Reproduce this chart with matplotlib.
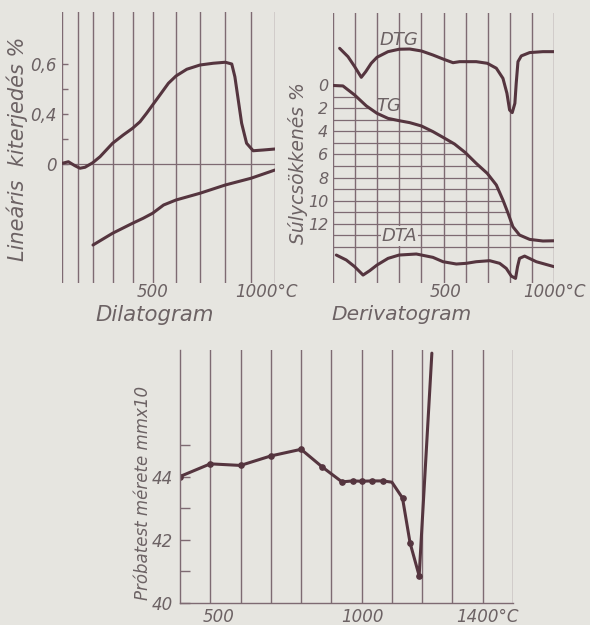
import numpy as np
import matplotlib
matplotlib.use("Agg")
import matplotlib.pyplot as plt

# ---------------------------------------------------------------------------
# Data
# ---------------------------------------------------------------------------

# Dilatogram: heating curve (°C, linear expansion %)
dil_heat_t = [0, 40, 81, 113, 147, 198, 235, 298, 351, 398, 435, 468, 498, 530,
              567, 600, 645, 700, 753, 801, 826, 838, 851, 864, 883, 909, 951, 1000]
dil_heat_v = [0.005, 0.018, -0.014, -0.034, -0.026, 0.01, 0.058, 0.166, 0.232,
              0.286, 0.338, 0.403, 0.436, 0.476, 0.523, 0.552, 0.579, 0.596,
              0.603, 0.607, 0.6, 0.549, 0.456, 0.326, 0.166, 0.106, 0.112, 0.12]
# Dilatogram: cooling curve
dil_cool_t = [200, 298, 398, 451, 498, 546, 600, 700, 801, 900, 1000]
dil_cool_v = [-0.648, -0.554, -0.474, -0.434, -0.394, -0.328, -0.288, -0.234,
              -0.168, -0.114, -0.048]

# Dilatogram axis: the original grid is drawn unevenly
dil_grid_t = [0, 100, 200, 300, 400, 500, 600, 700, 800, 900, 1000]
dil_grid_px = [62, 78, 93, 113, 133, 153, 176, 200, 225, 251, 275]
dil_tick_v = [0, 0.4, 0.6]
dil_tick_lbl = ["0", "0,4", "0,6"]
dil_tick_step = [0, 2, 4]        # tick index of each labelled value
dil_minor_v = [0.2, 0.5]

# Derivatogram: TG (weight loss %)
tg_t = [0, 45, 98, 151, 199, 249, 299, 347, 400, 452, 498, 550, 599, 648, 698,
        739, 769, 792, 814, 844, 890, 950, 1000]
tg_v = [0, 0.04, 0.83, 1.78, 2.42, 2.86, 3.06, 3.23, 3.52, 4.01, 4.51, 5.09,
        5.84, 6.77, 7.64, 8.65, 9.96, 11.1, 12.28, 13.0, 13.38, 13.52, 13.5]
# DTG and DTA, plotted as offset curves in the same frame (arbitrary units)
dtg_t = [30, 68, 98, 128, 148, 173, 199, 249, 299, 347, 400, 452, 498, 543,
         573, 648, 698, 739, 769, 787, 799, 811, 823, 829, 837, 852, 890, 950, 1000]
dtg_v = [-3.23, -2.5, -1.64, -0.71, -1.2, -1.93, -2.45, -2.94, -3.15, -3.17,
         -3.0, -2.65, -2.3, -1.98, -2.07, -2.07, -1.93, -1.5, -0.62, 0.68,
         2.13, 2.36, 1.55, -0.19, -2.07, -2.57, -2.86, -2.94, -2.94]
dta_t = [15, 60, 98, 136, 166, 199, 249, 299, 377, 452, 498, 558, 603, 648,
         709, 754, 784, 807, 826, 835, 844, 867, 920, 1000]
dta_v = [14.74, 15.17, 15.75, 16.48, 16.1, 15.61, 15.03, 14.74, 14.65, 14.94,
         15.32, 15.52, 15.46, 15.32, 15.23, 15.46, 15.9, 16.57, 16.77, 15.75,
         15.03, 14.83, 15.32, 15.75]
tg_levels = list(range(1, 15))
tg_tick_v = [0, 2, 4, 6, 8, 10, 12]

# Specimen size (mm x 10) vs temperature
spec_t = [400, 500, 600, 700, 800, 870, 935, 970, 1000, 1035, 1070, 1100,
          1135, 1160, 1190, 1232]
spec_v = [44.0, 44.4, 44.35, 44.65, 44.86, 44.3, 43.83, 43.86, 43.85, 43.86,
          43.86, 43.82, 43.32, 41.9, 40.86, 47.9]
spec_marked = [0, 1, 2, 3, 4, 5, 6, 7, 8, 9, 10, 12, 13, 14]
spec_grid_t = list(range(500, 1600, 100))

# ---------------------------------------------------------------------------
# Style
# ---------------------------------------------------------------------------
BG = "#e6e5e0"
INK = "#55353f"
GRID = "#7e6a72"
TXT = "#6c6264"
plt.rcParams["font.family"] = ["DejaVu Sans"]
plt.rcParams["font.style"] = "italic"

W, H = 590, 625


def rect(x0, y0, x1, y1):
    """Axes rectangle from pixel corners (top-left origin)."""
    return [x0 / W, 1 - y1 / H, (x1 - x0) / W, (y1 - y0) / H]


def piecewise(vals, pos):
    """Piecewise-linear scale with linear extrapolation at both ends."""
    vals = np.asarray(vals, float)
    pos = np.asarray(pos, float)

    def make(a, b):
        def f(v):
            v = np.asarray(v, float)
            out = np.interp(v, a, b)
            lo = b[0] + (v - a[0]) * (b[1] - b[0]) / (a[1] - a[0])
            hi = b[-1] + (v - a[-1]) * (b[-1] - b[-2]) / (a[-1] - a[-2])
            return np.where(v < a[0], lo, np.where(v > a[-1], hi, out))
        return f

    return make(vals, pos), make(pos, vals)


def xlabel_at(ax, x, text, dx_px=0, dy_px=-9, size=12):
    ax.annotate(text, (x, 0), xycoords=("data", "axes fraction"),
                xytext=(dx_px * 0.72, dy_px * 0.72), textcoords="offset points",
                ha="center", va="center", color=TXT, fontsize=size)


fig = plt.figure(figsize=(W / 100, H / 100), dpi=100, facecolor=BG)

# ---------------------------------------------------------------------------
# Dilatogram
# ---------------------------------------------------------------------------
ax1 = fig.add_axes(rect(62, 12, 275, 283))
ax1.set_facecolor(BG)
ax1.set_xscale("function", functions=piecewise(dil_grid_t, dil_grid_px))
ax1.set_yscale("function", functions=piecewise(dil_tick_v, dil_tick_step))
ax1.set_xlim(0, 1000)
ax1.set_ylim(-0.952, 0.808)
for s in ax1.spines.values():
    s.set_visible(False)
for t in dil_grid_t:
    ax1.axvline(t, color=GRID, lw=1.0)
ax1.axhline(0, color=GRID, lw=0.9)
ax1.plot(dil_heat_t, dil_heat_v, color=INK, lw=2.2, solid_capstyle="round")
ax1.plot(dil_cool_t, dil_cool_v, color=INK, lw=2.2, solid_capstyle="round")
ax1.set_xticks([])
ax1.set_yticks(dil_tick_v, dil_tick_lbl)
ax1.set_yticks(dil_minor_v, minor=True)
ax1.yaxis.set_minor_formatter(matplotlib.ticker.NullFormatter())
ax1.tick_params(axis="y", which="both", direction="in", length=4, width=1,
                color=GRID, labelcolor=TXT, labelsize=12, pad=4)
xlabel_at(ax1, 500, "500")
xlabel_at(ax1, 1000, "1000°C", dx_px=-9)
fig.text(17 / W, 1 - 149 / H, "Lineáris  kiterjedés %", rotation=90,
         ha="center", va="center", color=TXT, fontsize=15)
fig.text(155 / W, 1 - 315 / H, "Dilatogram", ha="center", va="center",
         color=TXT, fontsize=15.3)

# ---------------------------------------------------------------------------
# Derivatogram
# ---------------------------------------------------------------------------
ax2 = fig.add_axes(rect(333, 13, 554, 283))
ax2.set_facecolor(BG)
ax2.set_xlim(0, 1000)
ax2.set_ylim(17.17, -6.3)
for s in ax2.spines.values():
    s.set_visible(False)
for t in range(0, 1100, 100):
    ax2.axvline(t, color=GRID, lw=1.0)
tg_reach = np.maximum.accumulate(tg_v)
hatch_end = [np.interp(lv, tg_reach, tg_t) if lv <= tg_reach[-1] else 1000
             for lv in tg_levels]
ax2.hlines(tg_levels, 0, hatch_end, color=GRID, lw=0.9)
ax2.plot(tg_t, tg_v, color=INK, lw=2.2, solid_capstyle="round")
ax2.plot(dtg_t, dtg_v, color=INK, lw=2.2, solid_capstyle="round")
ax2.plot(dta_t, dta_v, color=INK, lw=2.2, solid_capstyle="round")
ax2.text(297, -3.96, "DTG", ha="center", va="center", color=TXT, fontsize=13)
ax2.text(252, 1.75, "TG", ha="center", va="center", color=TXT, fontsize=13)
ax2.text(302, 13.1, "DTA", ha="center", va="center", color=TXT, fontsize=13,
         bbox=dict(facecolor=BG, edgecolor="none", pad=0.5))
ax2.set_xticks([])
ax2.set_yticks(tg_tick_v, [str(v) for v in tg_tick_v])
ax2.tick_params(axis="y", length=0, labelcolor=TXT, labelsize=11.5, pad=3.5)
xlabel_at(ax2, 500, "500", dx_px=2)
xlabel_at(ax2, 1000, "1000°C")
fig.text(298 / W, 1 - 163 / H, "Súlycsökkenés %", rotation=90,
         ha="center", va="center", color=TXT, fontsize=13.5)
fig.text(402 / W, 1 - 315 / H, "Derivatogram", ha="center", va="center",
         color=TXT, fontsize=14.6)

# ---------------------------------------------------------------------------
# Specimen size
# ---------------------------------------------------------------------------
ax3 = fig.add_axes(rect(180, 350, 513, 603))
ax3.set_facecolor(BG)
ax3.set_xlim(400, 1500)
ax3.set_ylim(40, 48)
for side in ("top", "right"):
    ax3.spines[side].set_visible(False)
for side in ("left", "bottom"):
    ax3.spines[side].set_color(GRID)
    ax3.spines[side].set_linewidth(1.0)
for t in spec_grid_t:
    ax3.axvline(t, color=GRID, lw=1.0)
ax3.plot(spec_t, spec_v, color=INK, lw=2.2, marker="o", ms=3.8,
         markevery=spec_marked, solid_capstyle="round")
ax3.set_xticks([])
ax3.set_yticks([40, 42, 44], ["40", "42", "44"])
ax3.set_yticks([41, 43, 45], minor=True)
ax3.yaxis.set_minor_formatter(matplotlib.ticker.NullFormatter())
ax3.tick_params(axis="y", which="both", direction="in", length=7, width=1,
                color=GRID, labelcolor=TXT, labelsize=12, pad=5)
xlabel_at(ax3, 500, "500", dx_px=8, dy_px=-14)
xlabel_at(ax3, 1000, "1000", dx_px=1, dy_px=-14)
xlabel_at(ax3, 1400, "1400°C", dx_px=5, dy_px=-14)
fig.text(143 / W, 1 - 493 / H, "Próbatest mérete mmx10", rotation=90,
         ha="center", va="center", color=TXT, fontsize=12)

fig.savefig("out.png", dpi=100, facecolor=BG)
